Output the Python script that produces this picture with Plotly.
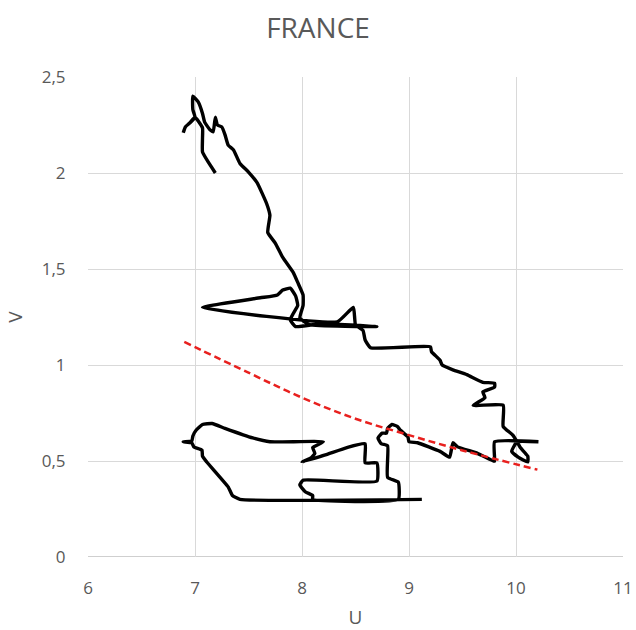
import plotly.graph_objects as go

# Unemployment rate (U, %) and vacancy rate (V, %) path for France
u_rate = [
    9.12, 7.42, 7.35, 7.31, 7.11, 7.07, 7.065, 6.99, 6.97, 6.89,
    6.97, 6.98, 7.01, 7.07, 7.16, 7.28, 7.54, 7.70, 8.20, 8.10,
    8.12, 8.08, 8.00, 8.21, 8.42, 8.59, 8.59, 8.70, 8.70, 8.01,
    7.98, 8.03, 8.10, 8.10, 8.90, 8.90, 8.80, 8.80, 8.74, 8.71,
    8.75, 8.79, 8.80, 8.84, 8.89, 8.92, 8.99, 9.00, 9.08, 9.29,
    9.38, 9.41, 9.45, 9.64, 9.79, 9.80, 9.80, 10.21, 10.01, 9.96,
    10.02, 10.11, 10.11, 10.04, 10.01, 9.97, 9.88, 9.88, 9.60, 9.71,
    9.69, 9.80, 9.80, 9.69, 9.54, 9.41, 9.31, 9.29, 9.21, 9.20,
    8.64, 8.59, 8.57, 8.50, 8.48, 8.33, 7.07, 7.61, 7.77, 7.82,
    7.89, 7.94, 7.96, 7.92, 7.89, 7.94, 8.17, 8.70, 8.07, 7.98,
    8.01, 8.01, 7.96, 7.92, 7.82, 7.75, 7.68, 7.70, 7.67, 7.58,
    7.50, 7.42, 7.36, 7.31, 7.28, 7.25, 7.21, 7.19, 7.17, 7.14,
    7.09, 7.07, 7.03, 6.98, 6.98, 7.00, 6.95, 6.91, 6.89, 6.91,
    6.95, 7.00, 7.07, 7.07, 7.07, 7.12, 7.19,
]
v_rate = [
    0.30, 0.30, 0.32, 0.365, 0.495, 0.525, 0.557, 0.573, 0.594, 0.60,
    0.604, 0.63, 0.66, 0.69, 0.695, 0.67, 0.62, 0.60, 0.60, 0.57,
    0.54, 0.515, 0.495, 0.53, 0.57, 0.59, 0.49, 0.49, 0.395, 0.40,
    0.375, 0.34, 0.32, 0.30, 0.30, 0.39, 0.415, 0.58, 0.59, 0.62,
    0.645, 0.645, 0.67, 0.69, 0.68, 0.66, 0.625, 0.60, 0.595, 0.55,
    0.52, 0.595, 0.575, 0.54, 0.50, 0.50, 0.60, 0.60, 0.60, 0.55,
    0.52, 0.495, 0.525, 0.57, 0.60, 0.635, 0.68, 0.79, 0.79, 0.83,
    0.86, 0.885, 0.905, 0.91, 0.95, 0.975, 1.00, 1.025, 1.07, 1.095,
    1.09, 1.13, 1.18, 1.21, 1.30, 1.225, 1.30, 1.35, 1.365, 1.39,
    1.40, 1.36, 1.31, 1.27, 1.235, 1.20, 1.215, 1.20, 1.21, 1.245,
    1.31, 1.365, 1.43, 1.48, 1.56, 1.635, 1.69, 1.78, 1.84, 1.95,
    2.005, 2.05, 2.12, 2.145, 2.20, 2.24, 2.25, 2.29, 2.215, 2.225,
    2.265, 2.31, 2.37, 2.40, 2.33, 2.29, 2.26, 2.24, 2.21, 2.24,
    2.26, 2.29, 2.235, 2.18, 2.11, 2.06, 2.00,
]

# Exponential trend line, sampled along its length
trend_u = [6.9, 7.5, 8.0, 8.5, 9.0, 9.5, 10.2]
trend_v = [1.12, 0.96, 0.83, 0.72, 0.635, 0.555, 0.455]

x_ticks = [6, 7, 8, 9, 10, 11]
y_ticks = [0, 0.5, 1, 1.5, 2, 2.5]
y_tick_text = ["0", "0,5", "1", "1,5", "2", "2,5"]

FONT = "Open Sans"
GREY = "#595959"

fig = go.Figure()
fig.add_trace(go.Scatter(
    x=u_rate, y=v_rate, mode="lines",
    line=dict(color="black", width=3.4, shape="spline", smoothing=0.4),
    showlegend=False, hoverinfo="skip",
))
fig.add_trace(go.Scatter(
    x=trend_u, y=trend_v, mode="lines",
    line=dict(color="#E8201E", width=2.5, dash="7px,4px", shape="spline"),
    showlegend=False, hoverinfo="skip",
))

fig.update_layout(
    width=636, height=630,
    margin=dict(l=88, r=13, t=77, b=73),
    paper_bgcolor="white", plot_bgcolor="white",
    font=dict(family=FONT, color=GREY, size=17),
    title=dict(text="FRANCE", x=0.5, xanchor="center", y=1 - 28 / 630,
               yanchor="middle", font=dict(family=FONT, size=28, color=GREY)),
    xaxis=dict(
        range=[6, 11], tickvals=x_ticks, ticktext=[str(t) for t in x_ticks],
        showgrid=True, gridcolor="#d9d9d9", gridwidth=1, automargin=False,
        zeroline=False, showline=False, ticks="outside", ticklen=16,
        tickcolor="rgba(0,0,0,0)",
        title=dict(text="U", font=dict(size=19, color=GREY), standoff=16),
    ),
    yaxis=dict(
        range=[0, 2.5], tickvals=y_ticks, ticktext=y_tick_text,
        showgrid=True, gridcolor="#d9d9d9", gridwidth=1, automargin=False,
        zeroline=False, showline=False, ticks="outside", ticklen=18,
        tickcolor="rgba(0,0,0,0)",
        title=dict(text="V", font=dict(size=19, color=GREY), standoff=14),
    ),
)
# Darker horizontal baseline along V = 0
fig.add_shape(type="line", xref="x", yref="y", x0=6, x1=11, y0=0, y1=0,
              line=dict(color="#bfbfbf", width=1.5), layer="below")

fig.write_html("out.html")
